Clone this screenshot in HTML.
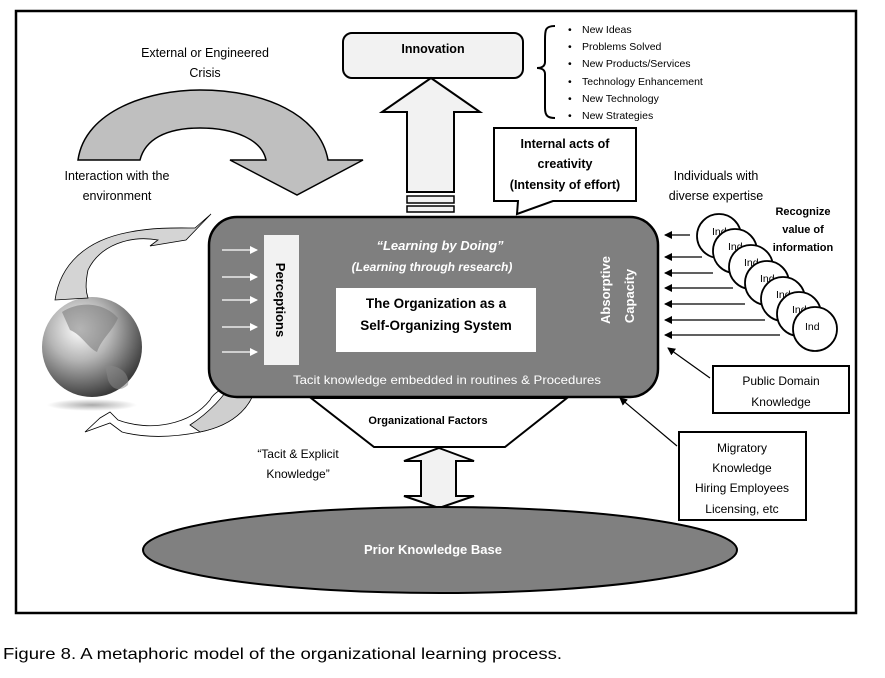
<!DOCTYPE html>
<html><head><meta charset="utf-8"><style>
html,body{margin:0;padding:0;background:#fff;}
svg{display:block;font-family:"Liberation Sans",sans-serif;}
</style></head><body>
<svg width="885" height="678" viewBox="0 0 885 678" xmlns="http://www.w3.org/2000/svg">
<defs>
<radialGradient id="g" cx="0.38" cy="0.32" r="0.7">
<stop offset="0" stop-color="#ffffff"/><stop offset="0.45" stop-color="#b5b5b5"/><stop offset="1" stop-color="#3a3a3a"/>
</radialGradient>
<radialGradient id="sh" cx="0.5" cy="0.5" r="0.5"><stop offset="0" stop-color="#aaa"/><stop offset="1" stop-color="#fff"/></radialGradient>
<marker id="ah" markerWidth="8" markerHeight="8" refX="7" refY="4" orient="auto" markerUnits="userSpaceOnUse"><path d="M0,0 L8,4 L0,8 z" fill="#000"/></marker>
<marker id="aw" markerWidth="8" markerHeight="8" refX="7" refY="4" orient="auto" markerUnits="userSpaceOnUse"><path d="M0,0 L8,4 L0,8 z" fill="#fff"/></marker>
</defs>
<rect x="16" y="11" width="840" height="602" fill="none" stroke="#000" stroke-width="2.5"/>

<path d="M78,160 C85,110 150,90 200,90 C265,90 320,115 328,160 L363,160 L297,195 L230,160 L266,160 C262,140 235,128 200,128 C165,128 145,140 140,160 Z" fill="#bfbfbf" stroke="#000" stroke-width="1.5"/>
<text x="205" y="57" font-size="12.5" text-anchor="middle">External or Engineered</text>
<text x="205" y="77" font-size="12.5" text-anchor="middle">Crisis</text>
<text x="117" y="180" font-size="12.5" text-anchor="middle">Interaction with the</text>
<text x="117" y="200" font-size="12.5" text-anchor="middle">environment</text>

<ellipse cx="92" cy="405" rx="45" ry="6" fill="url(#sh)"/>
<circle cx="92" cy="347" r="50" fill="url(#g)"/>
<path d="M62,312 C80,300 105,303 118,318 C112,332 102,338 97,352 C88,348 82,335 70,330 Z" fill="#777" opacity="0.55"/>
<path d="M105,365 C118,365 130,372 128,385 C120,392 112,390 108,380 Z" fill="#888" opacity="0.55"/>

<path d="M55,300 C60,265 85,240 130,232 C155,227 180,228 195,228 L211,214 L186,240 L150,246 L158,240 C130,235 100,245 88,270 C85,285 86,292 88,298 Z" fill="#d4d4d4" stroke="#000" stroke-width="0.8"/>
<path d="M257,378 C255,405 235,425 200,432 C170,438 145,438 122,432 L110,423 L85,432 L100,418 L110,412 L118,420 C150,432 190,425 210,400 C215,390 228,385 257,378 Z" fill="#fff" stroke="#000" stroke-width="0.8"/>
<path d="M257,378 C255,405 235,425 200,432 L190,425 C210,412 225,395 230,385 Z" fill="#cfcfcf" stroke="#000" stroke-width="0.8"/>

<rect x="343" y="33" width="180" height="45" rx="9" fill="#f2f2f2" stroke="#000" stroke-width="2"/>
<text x="433" y="53" font-size="12.5" font-weight="bold" text-anchor="middle">Innovation</text>
<path d="M431,78 L480,112 L454,112 L454,192 L407,192 L407,112 L382,112 Z" fill="#f2f2f2" stroke="#000" stroke-width="2"/>
<rect x="407" y="196" width="47" height="7" fill="#f2f2f2" stroke="#000" stroke-width="1.5"/>
<rect x="407" y="206" width="47" height="6" fill="#f2f2f2" stroke="#000" stroke-width="1.5"/>

<path d="M555,26 C545,26 545,30 545,40 L545,62 C545,66 542,68 537,68 C542,68 545,70 545,74 L545,108 C545,116 548,118 555,118" fill="none" stroke="#000" stroke-width="2"/>
<g font-size="10.5">
<text x="568" y="33">•</text><text x="582" y="33">New Ideas</text>
<text x="568" y="50">•</text><text x="582" y="50">Problems Solved</text>
<text x="568" y="67">•</text><text x="582" y="67">New Products/Services</text>
<text x="568" y="85">•</text><text x="582" y="85">Technology Enhancement</text>
<text x="568" y="102">•</text><text x="582" y="102">New Technology</text>
<text x="568" y="119">•</text><text x="582" y="119">New Strategies</text>
</g>

<path d="M494,128 L636,128 L636,201 L553,201 L517,214 L518,201 L494,201 Z" fill="#fff" stroke="#000" stroke-width="2"/>
<g font-size="12.5" font-weight="bold" text-anchor="middle">
<text x="565" y="148">Internal acts of</text>
<text x="565" y="168">creativity</text>
<text x="565" y="189">(Intensity of effort)</text>
</g>

<rect x="209" y="217" width="449" height="180" rx="28" fill="#7f7f7f" stroke="#000" stroke-width="2.5"/>
<rect x="264" y="235" width="35" height="130" fill="#f2f2f2"/>
<text transform="translate(276,300) rotate(90)" font-size="13" font-weight="bold" text-anchor="middle">Perceptions</text>
<g stroke="#fff" stroke-width="1.2" marker-end="url(#aw)">
<line x1="222" y1="250" x2="257" y2="250"/><line x1="222" y1="277" x2="257" y2="277"/>
<line x1="222" y1="300" x2="257" y2="300"/><line x1="222" y1="327" x2="257" y2="327"/>
<line x1="222" y1="352" x2="257" y2="352"/>
</g>
<text x="440" y="250" font-size="13" font-weight="bold" font-style="italic" fill="#fff" text-anchor="middle">“Learning by Doing”</text>
<text x="432" y="271" font-size="12" font-weight="bold" font-style="italic" fill="#fff" text-anchor="middle">(Learning through research)</text>
<rect x="336" y="288" width="200" height="64" fill="#fff"/>
<text x="436" y="308" font-size="13.5" font-weight="bold" text-anchor="middle">The Organization as a</text>
<text x="436" y="330" font-size="13.5" font-weight="bold" text-anchor="middle">Self-Organizing System</text>
<text transform="translate(610,290) rotate(-90)" font-size="13" font-weight="bold" fill="#fff" text-anchor="middle">Absorptive</text>
<text transform="translate(634,296) rotate(-90)" font-size="13" font-weight="bold" fill="#fff" text-anchor="middle">Capacity</text>
<text x="447" y="384" font-size="12" fill="#fff" text-anchor="middle" textLength="308" lengthAdjust="spacingAndGlyphs">Tacit knowledge embedded in routines &amp; Procedures</text>

<path d="M311,398 L567,398 L505,447 L374,447 Z" fill="#fff" stroke="#000" stroke-width="2"/>
<text x="428" y="424" font-size="11" font-weight="bold" text-anchor="middle">Organizational Factors</text>
<path d="M439,448 L474,461 L456,461 L456,496 L474,496 L439,508 L404,496 L421,496 L421,461 L404,461 Z" fill="#f2f2f2" stroke="#000" stroke-width="2"/>
<text x="298" y="458" font-size="12" text-anchor="middle">“Tacit &amp; Explicit</text>
<text x="298" y="478" font-size="12" text-anchor="middle">Knowledge”</text>

<ellipse cx="440" cy="550" rx="297" ry="43" fill="#808080" stroke="#000" stroke-width="2"/>
<text x="433" y="554" font-size="13" font-weight="bold" fill="#fff" text-anchor="middle">Prior Knowledge Base</text>

<text x="716" y="180" font-size="12.5" text-anchor="middle">Individuals with</text>
<text x="716" y="200" font-size="12.5" text-anchor="middle">diverse expertise</text>
<g font-size="11" font-weight="bold" text-anchor="middle">
<text x="803" y="215">Recognize</text><text x="803" y="233">value of</text><text x="803" y="251">information</text>
</g>
<g stroke="#000" stroke-width="1.2" marker-end="url(#ah)">
<line x1="690" y1="235" x2="665" y2="235"/><line x1="702" y1="257" x2="665" y2="257"/>
<line x1="713" y1="273" x2="665" y2="273"/><line x1="733" y1="288" x2="665" y2="288"/>
<line x1="745" y1="304" x2="665" y2="304"/><line x1="765" y1="320" x2="665" y2="320"/>
<line x1="780" y1="335" x2="665" y2="335"/>
<line x1="710" y1="378" x2="668" y2="348"/>
<line x1="677" y1="446" x2="620" y2="398"/>
</g>
<g stroke="#000" stroke-width="1.8" fill="#fff" font-size="10.5">
<circle cx="719" cy="236" r="22"/><text x="712" y="235" stroke="none" fill="#000">Ind</text>
<circle cx="735" cy="251" r="22"/><text x="728" y="250" stroke="none" fill="#000">Ind</text>
<circle cx="751" cy="267" r="22"/><text x="744" y="266" stroke="none" fill="#000">Ind</text>
<circle cx="767" cy="283" r="22"/><text x="760" y="282" stroke="none" fill="#000">Ind</text>
<circle cx="783" cy="299" r="22"/><text x="776" y="298" stroke="none" fill="#000">Ind</text>
<circle cx="799" cy="314" r="22"/><text x="792" y="313" stroke="none" fill="#000">Ind</text>
<circle cx="815" cy="329" r="22"/><text x="805" y="330" stroke="none" fill="#000">Ind</text>
</g>
<rect x="713" y="366" width="136" height="47" fill="#fff" stroke="#000" stroke-width="2"/>
<text x="781" y="385" font-size="12" text-anchor="middle">Public Domain</text>
<text x="781" y="406" font-size="12" text-anchor="middle">Knowledge</text>
<rect x="679" y="432" width="127" height="88" fill="#fff" stroke="#000" stroke-width="2"/>
<g font-size="12" text-anchor="middle">
<text x="742" y="452">Migratory</text><text x="742" y="472">Knowledge</text>
<text x="742" y="492">Hiring Employees</text><text x="742" y="513">Licensing, etc</text>
</g>

<text x="3" y="659" font-size="16" textLength="559" lengthAdjust="spacingAndGlyphs">Figure 8. A metaphoric model of the organizational learning process.</text>
</svg>
</body></html>
